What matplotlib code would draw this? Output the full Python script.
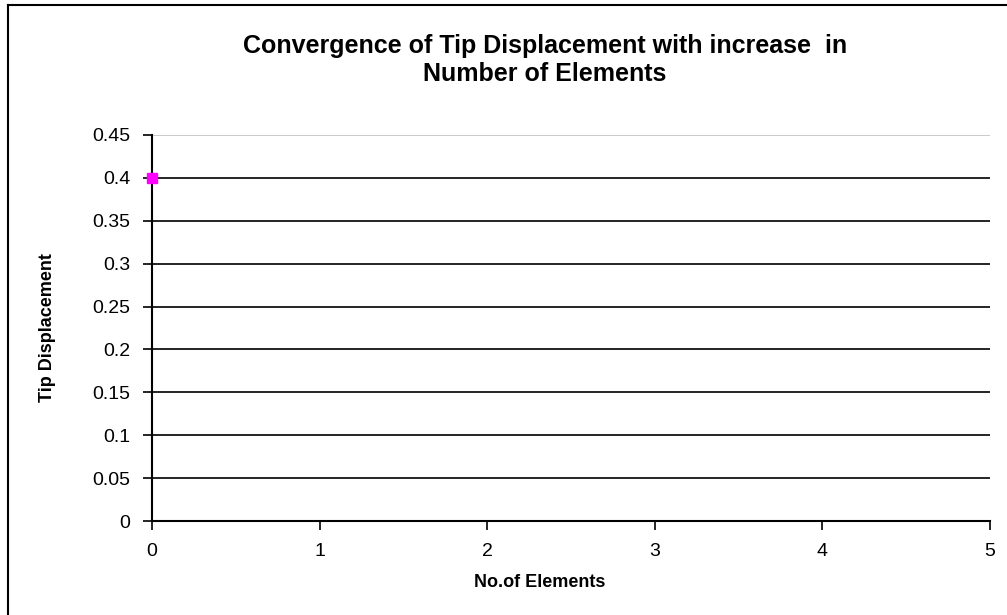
import matplotlib.pyplot as plt
from matplotlib.lines import Line2D
from matplotlib.ticker import FuncFormatter

plt.rcParams['font.family'] = ['Liberation Sans', 'DejaVu Sans']

# data
elements = [0]
tip_disp = [0.4]
x_ticks = [0, 1, 2, 3, 4, 5]
y_ticks = [0, 0.05, 0.1, 0.15, 0.2, 0.25, 0.3, 0.35, 0.4, 0.45]

fig = plt.figure(figsize=(10.07, 6.15), dpi=100)
ax = fig.add_axes([0.1509, 0.1528, 0.8322, 0.6277])

ax.plot(elements, tip_disp, marker='s', color='#ff00ff', markersize=7,
        linestyle='none', clip_on=False, zorder=5)

ax.set_xlim(0, 5)
ax.set_ylim(0, 0.45)
ax.set_xticks(x_ticks)
ax.set_yticks(y_ticks)
ax.yaxis.set_major_formatter(FuncFormatter(lambda v, p: '%g' % v))

ax.grid(axis='y', color='black', linewidth=1.2)
ax.yaxis.get_gridlines()[-1].set_color('#c0c0c0')
ax.set_axisbelow(True)

for s in ['top', 'right']:
    ax.spines[s].set_visible(False)
for s in ['left', 'bottom']:
    ax.spines[s].set_linewidth(1.5)
    ax.spines[s].set_color('black')

ax.tick_params(axis='both', direction='out', length=6.5, width=1.2, labelsize=14)
ax.tick_params(axis='y', pad=9)
ax.tick_params(axis='x', pad=9)

ax.set_xlabel('No.of Elements', fontsize=13, fontweight='bold')
ax.set_ylabel('Tip Displacement', fontsize=13, fontweight='bold')
ax.xaxis.set_label_coords(0.463, -0.137)
ax.yaxis.set_label_coords(-0.115, 0.5)

fig.text(0.541, 0.902, 'Convergence of Tip Displacement with increase  in\nNumber of Elements',
         ha='center', va='center', fontsize=18, fontweight='bold', linespacing=1.2)

# outer chart frame
fig.add_artist(Line2D([8 / 1007, 8 / 1007], [0, 1 - 5 / 615], color='black', linewidth=1.5))
fig.add_artist(Line2D([8 / 1007, 1], [1 - 5 / 615, 1 - 5 / 615], color='black', linewidth=1.5))

fig.savefig('out.png', dpi=100)
